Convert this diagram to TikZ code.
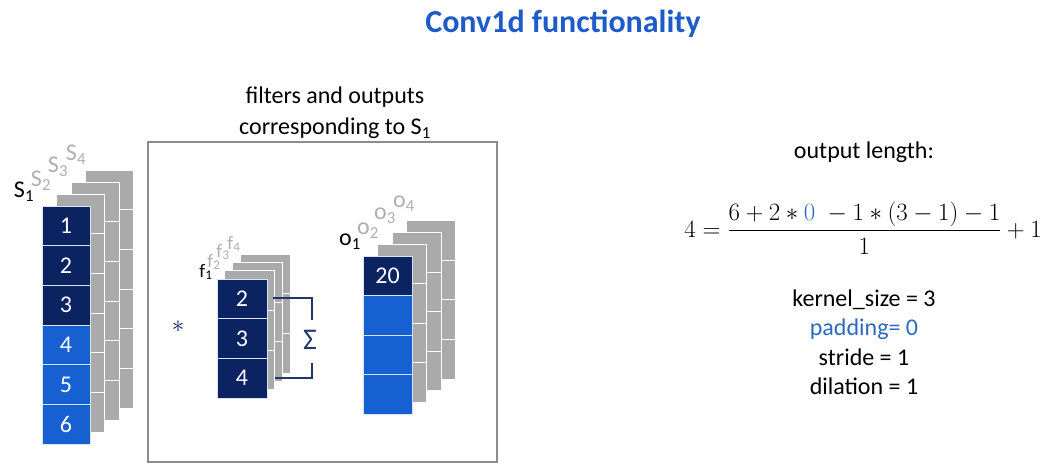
\documentclass[tikz,border=0pt]{standalone}
\usepackage{fontspec}
\setmainfont{Carlito}
\usepackage{amsmath}

\definecolor{navy}{RGB}{12,35,98}
\definecolor{cellblue}{RGB}{22,96,210}
\definecolor{layergray}{RGB}{170,170,170}
\definecolor{labelgray}{RGB}{175,175,175}
\definecolor{titleblue}{RGB}{31,91,200}
\definecolor{parblue}{RGB}{46,105,190}
\definecolor{cellline}{RGB}{215,228,245}
\definecolor{framegray}{RGB}{140,140,140}

\tikzset{
  cell/.style={rectangle, inner sep=0pt, minimum width=48pt, minimum height=39.7pt,
    draw=cellline, line width=0.8pt, text=white, font=\fontsize{24}{28}\selectfont},
  dark/.style={cell, fill=navy},
  light/.style={cell, fill=cellblue},
  back/.style={rectangle, inner sep=0pt, minimum height=39.7pt,
    fill=layergray, draw=white, line width=0.8pt},
  lab/.style={inner sep=0pt, font=\fontsize{24}{28}\selectfont},
  bracket/.style={draw=navy!80!gray, line width=1.1pt}
}

\begin{document}
\begin{tikzpicture}[x=1pt, y=-1pt]
  \useasboundingbox (0,0) rectangle (1057,464);

  \node [font=\fontsize{32}{36}\selectfont\bfseries, text=titleblue] (titel) at (563,24) {Conv1d functionality};

  % ingresso S
  \foreach \l in {3,2,1}
    \foreach \k in {0,...,5}
      \node [back, minimum width=48pt] (sg\l\k) at (66+14.5*\l, 225.85+39.7*\k-12*\l) {};
  \node [dark] (s1) at (66, 225.85) {1};
  \node [dark] (s2) at (66, 265.55) {2};
  \node [dark] (s3) at (66, 305.25) {3};
  \node [light] (s4) at (66, 344.95) {4};
  \node [light] (s5) at (66, 384.65) {5};
  \node [light] (s6) at (66, 424.35) {6};

  \node [lab] (etS1) at (24,192) {S\textsubscript{1}};
  \node [lab, text=labelgray] (etS2) at (41,181) {S\textsubscript{2}};
  \node [lab, text=labelgray] (etS3) at (58,167) {S\textsubscript{3}};
  \node [lab, text=labelgray] (etS4) at (76,155) {S\textsubscript{4}};

  % riquadro filtri e uscite
  \node [lab, align=center, font=\fontsize{24}{31}\selectfont] (sottotitolo) at (335,113)
    {filters and outputs\\corresponding to S\textsubscript{1}};
  \node [draw=framegray, line width=1.2pt, minimum width=349pt, minimum height=320pt, inner sep=0pt] (riquadro) at (322.5,302) {};

  \node [lab, text=navy] (stella) at (178,327) {$\ast$};

  % filtri f
  \foreach \l in {3,2,1}
    \foreach \k in {0,...,2}
      \node [back, minimum width=50pt] (fg\l\k) at (242+7.7*\l, 298.8+39.67*\k-8.3*\l) {};
  \node [dark, minimum width=50pt] (f1) at (242, 298.8) {2};
  \node [dark, minimum width=50pt] (f2) at (242, 338.5) {3};
  \node [dark, minimum width=50pt] (f3) at (242, 378.2) {4};

  \node [lab, font=\fontsize{19}{22}\selectfont] (etf1) at (206,272) {f\textsubscript{1}};
  \node [lab, font=\fontsize{19}{22}\selectfont, text=labelgray] (etf2) at (214,262) {f\textsubscript{2}};
  \node [lab, font=\fontsize{19}{22}\selectfont, text=labelgray] (etf3) at (223,252) {f\textsubscript{3}};
  \node [lab, font=\fontsize{19}{22}\selectfont, text=labelgray] (etf4) at (234,244) {f\textsubscript{4}};

  % somma
  \node [lab, text=navy!80!gray, font=\fontsize{30}{34}\selectfont] (sigma) at (310,340) {Σ};
  \coordinate (sommaalto) at (273,298);
  \coordinate (sommasu) at (312,320);
  \coordinate (sommagiu) at (312,363);
  \coordinate (sommabasso) at (275,378);
  \draw [bracket] (sommaalto) -| (sommasu);
  \draw [bracket] (sommabasso) -| (sommagiu);

  % uscite o
  \foreach \l in {3,2,1}
    \foreach \k in {0,...,3}
      \node [back, minimum width=49pt] (og\l\k) at (387.5+14.5*\l, 275.75+39.5*\k-11.7*\l) {};
  \node [dark, minimum width=49pt] (o1) at (387.5, 275.75) {20};
  \node [light, minimum width=49pt] (o2) at (387.5, 315.25) {};
  \node [light, minimum width=49pt] (o3) at (387.5, 354.75) {};
  \node [light, minimum width=49pt] (o4) at (387.5, 394.25) {};

  \node [lab] (eto1) at (350,242) {o\textsubscript{1}};
  \node [lab, text=labelgray] (eto2) at (368,231) {o\textsubscript{2}};
  \node [lab, text=labelgray] (eto3) at (385,216) {o\textsubscript{3}};
  \node [lab, text=labelgray] (eto4) at (404,204) {o\textsubscript{4}};

  % lunghezza uscita
  \node [lab] (lunghezza) at (864,152) {output length:};
  \node [inner sep=0pt, font=\fontsize{25}{30}\selectfont] (formula) at (863,228)
    {$\displaystyle 4=\frac{6+2\ast\textcolor{parblue}{0}\;-1\ast(3-1)-1}{1}+1$};
  \node [lab, align=center, font=\fontsize{24}{29.5}\selectfont] (parametri) at (864,342)
    {kernel\_size = 3\\\textcolor{parblue}{padding= 0}\\stride = 1\\dilation = 1};
\end{tikzpicture}
\end{document}
